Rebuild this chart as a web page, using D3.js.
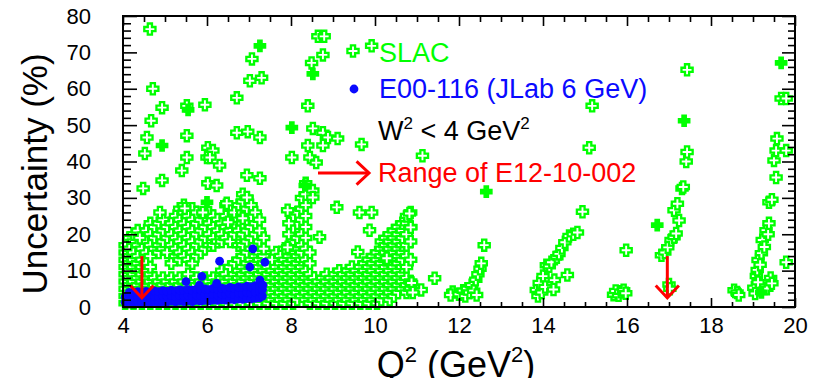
<!DOCTYPE html>
<html>
<head>
<meta charset="utf-8">
<script src="https://cdn.jsdelivr.net/npm/d3@7"></script>
<style>
  body { margin: 0; background: #fff; }
  svg { display: block; font-family: "Liberation Sans", Arial, sans-serif; }
</style>
</head>
<body>
<div id="chart"></div>
<script>
// Axis ranges and tick labels
const xDomain = [4, 20];
const yDomain = [0, 80];
const xTickLabels = [4, 6, 8, 10, 12, 14, 16, 18, 20];
const yTickLabels = [0, 10, 20, 30, 40, 50, 60, 70, 80];

// SLAC points, dense part read as columns: [Q2, [uncertainties %]]
const slacColumns = [
  [4.05, [1, 3, 5, 7, 9, 11, 13, 15, 17]],
  [4.15, [2, 4, 6, 8, 10, 12, 14, 16, 19]],
  [4.25, [1, 3, 5, 7, 9, 11, 13, 15, 18, 20]],
  [4.35, [2, 4, 6, 8, 10, 12, 14, 17, 21]],
  [4.45, [1, 3, 5, 7, 9, 11, 13, 16, 19]],
  [4.55, [2, 4, 6, 8, 10, 12, 15, 18, 21]],
  [4.65, [1, 3, 5, 7, 9, 11, 14, 17, 20, 23]],
  [4.75, [2, 4, 6, 8, 16, 19, 22]],
  [4.85, [1, 3, 5, 7, 15, 17, 20, 23]],
  [4.95, [2, 4, 6, 8, 16, 18, 21, 24]],
  [5.05, [1, 3, 5, 7, 15, 19, 22]],
  [5.15, [2, 4, 6, 8, 12, 17, 20, 23]],
  [5.25, [1, 3, 5, 7, 14, 16, 19, 22, 25]],
  [5.35, [2, 4, 6, 8, 13, 15, 18, 21, 24, 27]],
  [5.45, [1, 3, 5, 7, 14, 17, 20, 23, 26, 28]],
  [5.55, [2, 4, 6, 9, 13, 16, 19, 22, 25]],
  [5.65, [1, 3, 5, 7, 12, 15, 18, 21, 24, 27]],
  [5.75, [2, 4, 6, 8, 14, 17, 20, 23, 26]],
  [5.85, [1, 3, 5, 7, 15, 18, 21, 24]],
  [5.95, [2, 4, 6, 8, 16, 19, 22, 25]],
  [6.05, [1, 3, 5, 7, 17, 20, 23, 26]],
  [6.15, [2, 4, 6, 8, 17, 19, 22, 25]],
  [6.25, [1, 3, 5, 7, 18, 21, 24]],
  [6.35, [2, 4, 6, 8, 10, 18, 20, 23]],
  [6.45, [1, 3, 5, 7, 9, 19, 22, 25, 28]],
  [6.55, [2, 4, 6, 8, 11, 18, 21, 24, 27]],
  [6.65, [1, 3, 5, 7, 9, 12, 20, 23, 26]],
  [6.75, [2, 4, 6, 8, 10, 13, 17, 21, 24, 28]],
  [6.85, [1, 3, 5, 7, 9, 11, 14, 17, 20, 23, 26, 29, 31]],
  [6.95, [2, 4, 6, 8, 10, 12, 15, 18, 21, 24, 27, 30]],
  [7.05, [1, 3, 5, 7, 9, 11, 13, 16, 19, 22, 25, 28]],
  [7.15, [2, 4, 6, 8, 10, 12, 14, 17, 20, 23, 26]],
  [7.25, [1, 3, 5, 7, 9, 11, 13, 15, 18, 21, 24]],
  [7.35, [2, 4, 6, 8, 10, 12, 14, 16, 19]],
  [7.45, [1, 3, 5, 7, 9, 11]],
  [7.55, [2, 4, 6, 8, 10, 13]],
  [7.65, [1, 3, 5, 7, 9, 11, 15]],
  [7.75, [2, 4, 6, 8, 10, 12, 14]],
  [7.85, [1, 3, 5, 7, 9, 11, 13, 16]],
  [7.95, [2, 4, 6, 8, 10, 12, 14, 17, 20]],
  [8.05, [1, 3, 5, 7, 9, 11, 13, 15, 18, 22]],
  [8.15, [2, 4, 6, 8, 10, 12, 14, 16, 19, 23, 26]],
  [8.25, [3, 5, 7, 9, 11, 13, 15, 17, 20, 24, 27, 30]],
  [8.35, [2, 4, 6, 8, 10, 13, 16, 19, 22, 25, 28, 31, 34]],
  [8.45, [1, 3, 5, 7, 9, 12, 15]],
  [8.55, [2, 4, 6, 8]],
  [8.65, [1, 3, 5, 7]],
  [8.75, [2, 4, 6, 8]],
  [8.85, [1, 3, 5, 7, 9]],
  [8.95, [2, 4, 6, 8]],
  [9.05, [1, 3, 5, 7, 9]],
  [9.15, [2, 4, 6, 8, 10]],
  [9.25, [1, 3, 5, 7, 9]],
  [9.35, [2, 4, 6, 8, 10]],
  [9.45, [1, 3, 5, 7, 9, 11]],
  [9.55, [2, 4, 6, 8, 10]],
  [9.65, [1, 3, 5, 7, 9, 11]],
  [9.75, [2, 4, 6, 8, 10, 12]],
  [9.85, [1, 3, 5, 7, 9, 11, 13]],
  [9.95, [2, 4, 6, 8, 10, 12, 14]],
  [10.05, [1, 3, 5, 7, 9, 11, 13, 15]],
  [10.15, [2, 4, 6, 8, 10, 12, 14, 16, 18]],
  [10.25, [3, 5, 7, 9, 11, 13, 15, 17, 19]],
  [10.35, [2, 4, 6, 8, 10, 12, 14, 16, 18, 20]],
  [10.45, [3, 5, 7, 9, 11, 13, 15, 17, 19, 21]],
  [10.55, [4, 6, 8, 10, 12, 14, 16, 18, 20, 22]],
  [10.65, [5, 7, 9, 11, 13, 15, 17, 19, 21, 23]],
  [10.75, [4, 6, 8, 11, 14, 17, 20, 23, 25]],
  [10.85, [5, 7, 13, 18, 22, 26]]
];

// SLAC scattered points [Q2, uncertainty %]
const slacScattered = [
  [4.64, 76.4], [4.71, 60], [4.93, 54.8], [4.67, 51.2], [4.57, 46.6], [4.52, 42.2],
  [4.93, 34.8], [4.48, 32.6], [4.88, 26], [4.4, 19],
  [5.52, 55.3], [5.95, 55.6], [5.52, 47.1], [6.02, 43.8], [6.14, 43], [6.0, 41.1],
  [5.52, 41.1], [5.4, 37.5], [6.07, 41.1], [6.3, 38.9], [6.02, 34], [6.23, 33.4],
  [5.9, 26], [5.47, 27.1],
  [6.71, 57.5], [7.02, 62.2], [7.3, 63], [7.07, 68.2], [6.71, 47.9], [6.97, 48.2],
  [7.26, 46.6], [6.95, 36.2], [7.26, 35.4], [6.47, 28.5], [6.5, 23.3], [6.85, 24.4], [6.95, 30.1],
  [8.4, 55.3], [8.49, 67.1], [8.64, 74.4], [8.79, 74.4], [8.76, 69.3], [8.52, 49.1],
  [8.76, 47.9], [8.88, 46.6], [9.11, 46.3], [8.4, 44.4], [8.76, 44.4], [9.68, 44.7],
  [8.02, 41.1], [8.45, 41.1], [8.6, 39.7], [8.52, 32], [9.92, 71.8],
  [7.92, 26.6], [7.95, 23], [7.92, 16.4], [8.68, 19.2], [8.52, 30.1], [9.09, 27.4],
  [9.63, 26], [9.92, 26], [9.87, 21.1], [9.59, 15.1], [10.28, 13.4],
  [11.13, 41.6], [10.82, 25.7], [10.85, 21.9], [10.87, 6.6], [11.1, 4.7], [10.9, 4],
  [11.42, 7.9], [11.85, 4.1], [11.8, 3.3],
  [12.0, 3.5], [12.1, 4.5], [12.15, 3], [12.2, 5], [12.25, 4], [12.3, 6], [12.35, 4.5],
  [12.4, 7.5], [12.42, 3.3], [12.45, 9], [12.5, 10.5], [12.53, 12], [12.6, 17],
  [13.84, 4.7], [13.88, 3], [13.91, 6.6], [13.97, 4], [14.0, 8.5], [14.05, 5.5],
  [14.08, 11.5], [14.15, 11.2], [14.2, 12.3], [14.27, 7.4], [14.25, 4.8], [14.33, 13.7],
  [14.38, 14.6], [14.45, 16.2], [14.52, 17.8], [14.62, 19.5], [14.72, 20], [14.82, 20.5],
  [14.58, 8.8], [14.94, 26.2], [15.1, 43.8], [15.17, 55.3],
  [15.68, 3.4], [15.73, 4.4], [15.8, 3.2], [15.85, 4.2], [15.92, 4.6], [15.97, 3.8], [15.98, 15.6],
  [16.82, 14.2], [16.9, 15], [16.97, 16.4], [17.05, 18.4], [17.12, 19.2], [17.17, 20.2],
  [17.24, 23.8], [17.12, 26.6], [17.2, 28.4], [17.31, 32.6], [17.34, 33], [17.41, 40],
  [17.43, 42.6], [17.43, 65.2], [17.0, 6.2], [17.02, 5],
  [18.55, 4.6], [18.62, 4], [18.66, 3.3],
  [19.02, 5.3], [19.05, 3.7], [19.08, 8.5], [19.12, 6.8], [19.1, 10.2], [19.12, 12.9],
  [19.17, 11.6], [19.2, 14.8], [19.22, 18.4], [19.27, 16.5], [19.31, 21.1], [19.36, 20],
  [19.38, 23], [19.38, 28.8], [19.45, 29.5], [19.5, 40.3], [19.55, 35.6], [19.55, 43],
  [19.57, 46.3], [19.79, 43], [19.67, 57.3], [19.79, 57.3], [19.79, 12.3], [19.42, 8],
  [19.33, 5], [19.45, 6.5]
];

// SLAC points drawn with a filled cross
const slacFilled = [
  [7.26, 71.8], [5.55, 54.2], [4.93, 44.4], [8.02, 49.3], [8.52, 64.1], [8.33, 33.4],
  [12.65, 31.7], [17.36, 51.2], [16.72, 22.5], [19.67, 67.1], [6.0, 28.8], [19.2, 4]
];

// E00-116 (JLab 6 GeV), columns [Q2, [uncertainties %]]
const jlabColumns = [
  [4.05, [1.3, 2.8]], [4.15, [1.5, 3, 4]], [4.25, [1.2, 2.6, 4]], [4.35, [1.5, 3, 4.2]],
  [4.45, [1.2, 2.6, 4]], [4.55, [1.5, 3, 4.3]], [4.65, [1.3, 2.7, 4]], [4.75, [1.5, 3, 4.4]],
  [4.85, [1.3, 2.8, 4.2]], [4.95, [1.5, 3, 4.5]], [5.05, [1.4, 2.9, 4.3]], [5.15, [1.6, 3.1, 4.6]],
  [5.25, [1.4, 2.9, 4.4]], [5.35, [1.6, 3.1, 4.7]], [5.45, [1.5, 3, 4.5]], [5.55, [1.7, 3.2, 4.8]],
  [5.65, [1.5, 3, 4.6]], [5.75, [1.8, 3.3, 4.9]], [5.85, [1.6, 3.1, 4.7]], [5.95, [1.8, 3.4, 5]],
  [6.05, [1.7, 3.2, 4.8]], [6.15, [1.9, 3.5, 5.1]], [6.25, [1.8, 3.3, 4.9]], [6.35, [2, 3.6, 5.2]],
  [6.45, [1.9, 3.4, 5]], [6.55, [2.1, 3.7, 5.4]], [6.65, [2, 3.5, 5.1]], [6.75, [2.2, 3.8, 5.5]],
  [6.85, [2.1, 3.6, 5.3]], [6.95, [2.3, 4, 5.7]], [7.05, [2.2, 3.8, 5.5]], [7.15, [2.4, 4.1, 5.9]],
  [7.25, [2.5, 4.2, 6]], [7.32, [3, 4.8]]
];
const jlabScattered = [
  [7.09, 16], [7.38, 12.3], [7.02, 11], [6.3, 12.6], [5.88, 8.4], [5.5, 7],
  [5.82, 6], [6.23, 6.5], [7.26, 7.4], [7.33, 6]
];

// E12-10-002 range arrows: Q2 positions, from/to uncertainty
const rangeArrowsQ2 = [4.45, 16.96];
const rangeArrowSpan = [14, 2.5];

const legendLabels = ["SLAC", "E00-116 (JLab 6 GeV)", "W", "Range of E12-10-002"];

const W = 819, H = 378;
const plot = { left: 123, right: 795, top: 16, bottom: 307 };

const svg = d3.select("#chart").append("svg")
  .attr("width", W).attr("height", H);

const x = d3.scaleLinear().domain(xDomain).range([plot.left, plot.right]);
const y = d3.scaleLinear().domain(yDomain).range([plot.bottom, plot.top]);

const green = "#00ff00", blue = "#0a0aff", red = "#ff0000";

// plus-shaped marker outline
function crossPath(a, b) {
  return `M${-b},${-a}L${b},${-a}L${b},${-b}L${a},${-b}L${a},${b}L${b},${b}` +
         `L${b},${a}L${-b},${a}L${-b},${b}L${-a},${b}L${-a},${-b}L${-b},${-b}Z`;
}
const crossD = crossPath(5.6, 2.1);

const flat = cols => cols.flatMap(([q, us]) => us.map(u => [q, u]));
const slacOpen = flat(slacColumns).concat(slacScattered);
const jlabPoints = flat(jlabColumns).concat(jlabScattered);

// SLAC open crosses
svg.append("g").selectAll("path")
  .data(slacOpen)
  .enter().append("path")
  .attr("d", crossD)
  .attr("transform", d => `translate(${x(d[0])},${y(d[1])})`)
  .attr("fill", "#fff")
  .attr("stroke", green)
  .attr("stroke-width", 2.3);

// SLAC filled crosses
svg.append("g").selectAll("path")
  .data(slacFilled)
  .enter().append("path")
  .attr("d", crossD)
  .attr("transform", d => `translate(${x(d[0])},${y(d[1])})`)
  .attr("fill", green)
  .attr("stroke", green)
  .attr("stroke-width", 1.5);

// JLab points
svg.append("g").selectAll("circle")
  .data(jlabPoints)
  .enter().append("circle")
  .attr("cx", d => x(d[0]))
  .attr("cy", d => y(d[1]))
  .attr("r", 4.4)
  .attr("fill", blue);

// Range arrows
function arrow(g, x1, y1, x2, y2) {
  const ang = Math.atan2(y2 - y1, x2 - x1);
  const len = 17, spread = 0.75;
  g.append("line").attr("x1", x1).attr("y1", y1).attr("x2", x2).attr("y2", y2);
  g.append("path").attr("fill", "none")
    .attr("d", `M${x2 - len * Math.cos(ang - spread)},${y2 - len * Math.sin(ang - spread)}` +
               `L${x2},${y2}L${x2 - len * Math.cos(ang + spread)},${y2 - len * Math.sin(ang + spread)}`);
}
const arrows = svg.append("g").attr("stroke", red).attr("stroke-width", 3);
rangeArrowsQ2.forEach(q => arrow(arrows, x(q), y(rangeArrowSpan[0]), x(q), y(rangeArrowSpan[1])));

// Axes with inward ticks
const minorX = d3.range(33).map(i => 4 + i * 0.5).filter(v => v % 2 !== 0);
const minorY = d3.range(41).map(i => i * 2).filter(v => v % 10 !== 0);

function styleAxis(g) {
  g.select(".domain").remove();
  g.selectAll("line").attr("stroke", "#000").attr("stroke-width", 1.6);
}

svg.append("g").attr("transform", `translate(0,${plot.bottom})`)
  .call(d3.axisBottom(x).tickValues(xTickLabels).tickSize(-9).tickPadding(10).tickFormat(d3.format("d")))
  .call(styleAxis)
  .call(g => g.selectAll("text").attr("font-size", 22).attr("fill", "#000")
    .attr("font-family", "Liberation Sans, Arial, sans-serif"));
svg.append("g").attr("transform", `translate(0,${plot.bottom})`)
  .call(d3.axisBottom(x).tickValues(minorX).tickSize(-5).tickFormat(""))
  .call(styleAxis);
svg.append("g").attr("transform", `translate(0,${plot.top})`)
  .call(d3.axisTop(x).tickValues(xTickLabels).tickSize(-10).tickFormat(""))
  .call(styleAxis);
svg.append("g").attr("transform", `translate(0,${plot.top})`)
  .call(d3.axisTop(x).tickValues(minorX).tickSize(-6).tickFormat(""))
  .call(styleAxis);

svg.append("g").attr("transform", `translate(${plot.left},0)`)
  .call(d3.axisLeft(y).tickValues(yTickLabels).tickSize(-14).tickPadding(32).tickFormat(d3.format("d")))
  .call(styleAxis)
  .call(g => g.selectAll("text").attr("font-size", 22).attr("fill", "#000")
    .attr("font-family", "Liberation Sans, Arial, sans-serif"));
svg.append("g").attr("transform", `translate(${plot.left},0)`)
  .call(d3.axisLeft(y).tickValues(minorY).tickSize(-8).tickFormat(""))
  .call(styleAxis);
svg.append("g").attr("transform", `translate(${plot.right},0)`)
  .call(d3.axisRight(y).tickValues(yTickLabels).tickSize(-13).tickFormat(""))
  .call(styleAxis);
svg.append("g").attr("transform", `translate(${plot.right},0)`)
  .call(d3.axisRight(y).tickValues(minorY).tickSize(-7).tickFormat(""))
  .call(styleAxis);

// Frame
svg.append("rect")
  .attr("x", plot.left).attr("y", plot.top)
  .attr("width", plot.right - plot.left).attr("height", plot.bottom - plot.top)
  .attr("fill", "none").attr("stroke", "#000").attr("stroke-width", 2);

// Axis titles
svg.append("text")
  .attr("transform", `translate(47,174) rotate(-90)`)
  .attr("text-anchor", "middle")
  .attr("font-size", 35)
  .text("Uncertainty (%)");

const xt = svg.append("text")
  .attr("x", 456).attr("y", 377)
  .attr("text-anchor", "middle")
  .attr("font-size", 36);
xt.append("tspan").text("Q");
xt.append("tspan").attr("font-size", 22).attr("dy", -15).text("2");
xt.append("tspan").attr("dy", 15).text(" (GeV");
xt.append("tspan").attr("font-size", 22).attr("dy", -15).text("2");
xt.append("tspan").attr("dy", 15).text(")");

// Legend
const leg = svg.append("g").attr("font-size", 27);
leg.append("path").attr("d", crossD).attr("transform", "translate(353,51)")
  .attr("fill", "#fff").attr("stroke", green).attr("stroke-width", 2.3);
leg.append("text").attr("x", 379).attr("y", 62).attr("fill", green).text(legendLabels[0]);

leg.append("circle").attr("cx", 354).attr("cy", 89).attr("r", 4.4).attr("fill", blue);
leg.append("text").attr("x", 379).attr("y", 98).attr("fill", blue).text(legendLabels[1]);

const wt = leg.append("text").attr("x", 378).attr("y", 140).attr("fill", "#000");
wt.append("tspan").text(legendLabels[2]);
wt.append("tspan").attr("font-size", 17).attr("dy", -11).text("2");
wt.append("tspan").attr("dy", 11).text(" < 4 GeV");
wt.append("tspan").attr("font-size", 17).attr("dy", -11).text("2");

const legArrow = leg.append("g").attr("stroke", red).attr("stroke-width", 3);
arrow(legArrow, 318, 173, 369, 173);
leg.append("text").attr("x", 378).attr("y", 182).attr("fill", red).text(legendLabels[3]);
</script>
</body>
</html>
